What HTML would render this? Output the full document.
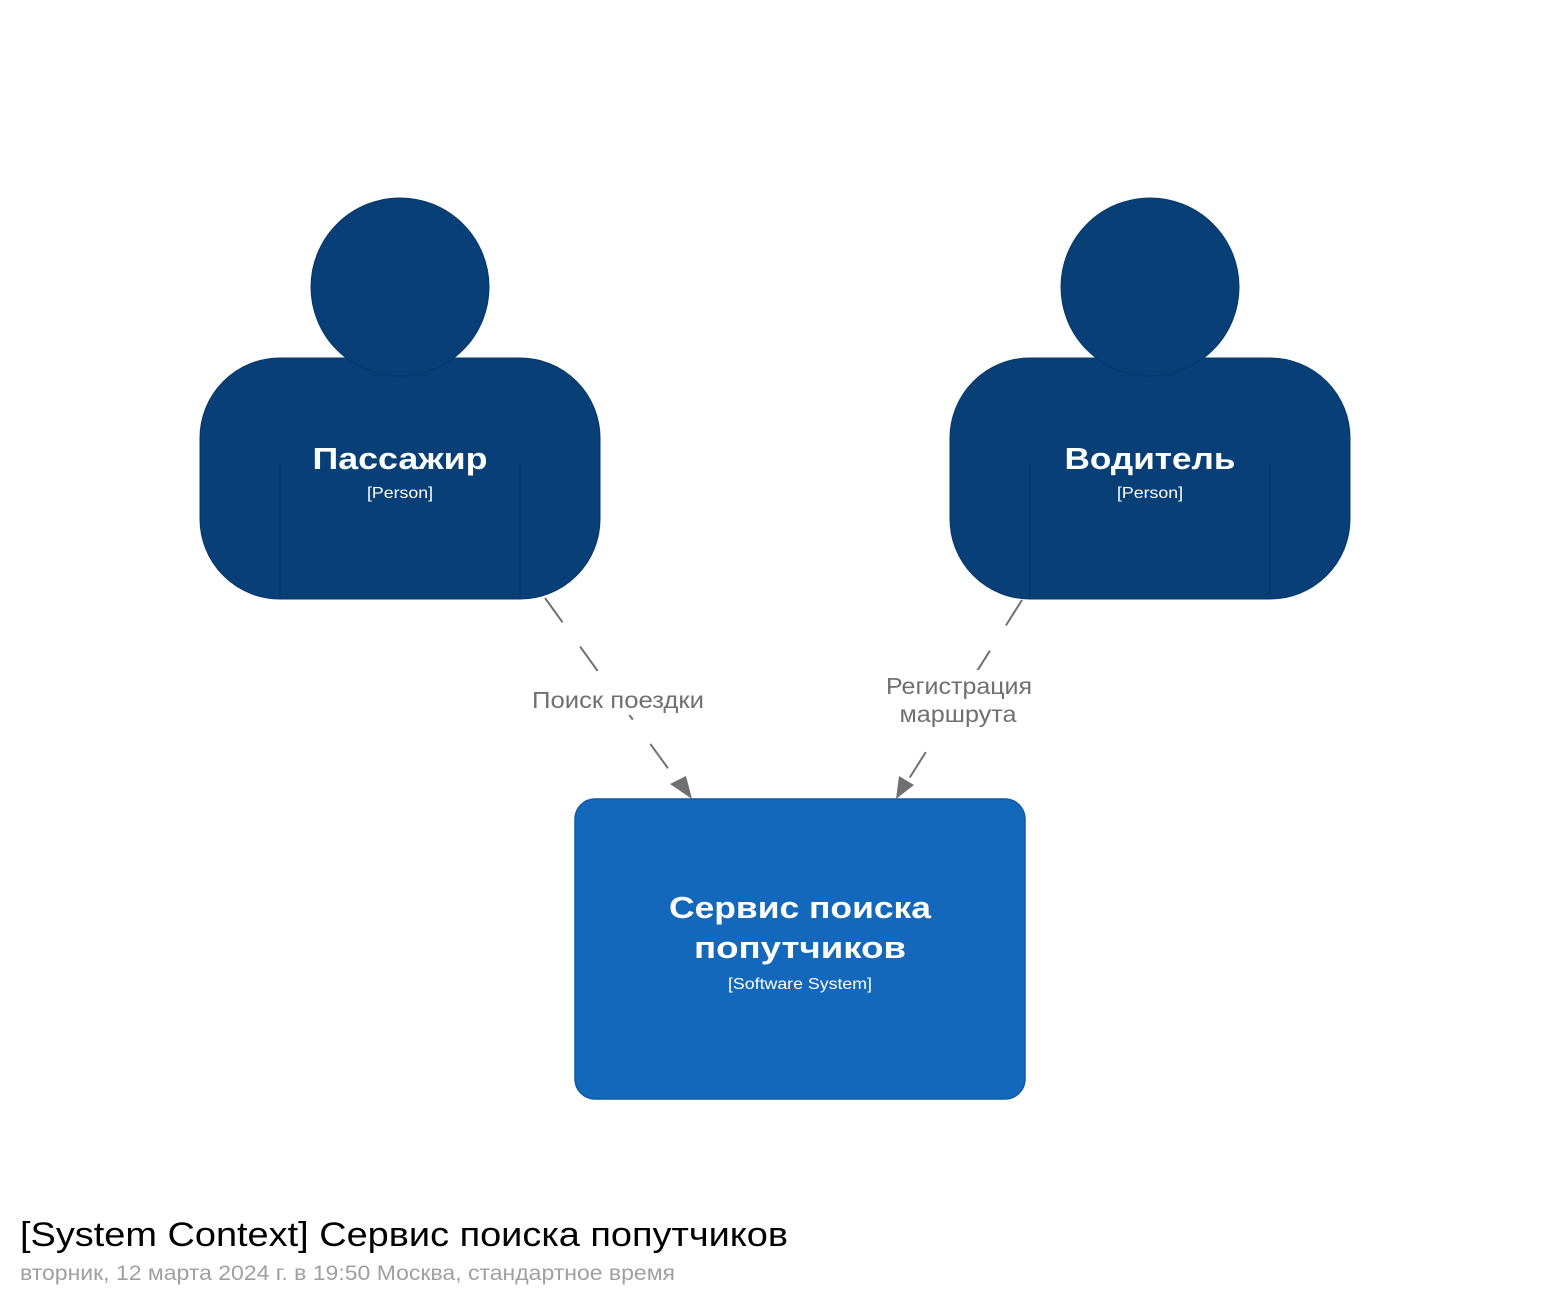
<!DOCTYPE html>
<html><head><meta charset="utf-8"><style>
body{margin:0;background:#fff;width:1550px;height:1300px;overflow:hidden;font-family:"Liberation Sans","DejaVu Sans",sans-serif}
</style></head><body>
<svg width="1550" height="1300" xmlns="http://www.w3.org/2000/svg" font-family="'Liberation Sans','DejaVu Sans',sans-serif">
<g stroke="#707070" stroke-width="2" stroke-dasharray="30,30" fill="none">
<line x1="545" y1="598" x2="680" y2="785"/>
<line x1="1022" y1="600" x2="905" y2="785"/>
</g>
<rect x="525" y="685" width="185" height="30" fill="#fff"/>
<rect x="880" y="670" width="158" height="60" fill="#fff"/>
<polygon points="670,784 686,776 692,799" fill="#707070"/>
<polygon points="896,799 899,776 914,785" fill="#707070"/>
<g fill="#707070" font-size="23" text-anchor="middle" lengthAdjust="spacingAndGlyphs">
<text x="618" y="708" textLength="172" lengthAdjust="spacingAndGlyphs">Поиск поездки</text>
<text x="959" y="694" textLength="146" lengthAdjust="spacingAndGlyphs">Регистрация</text>
<text x="958" y="722" textLength="117" lengthAdjust="spacingAndGlyphs">маршрута</text>
</g>
<g>
<rect x="200" y="358" width="400" height="241" rx="80" fill="#083f77" stroke="#073868" stroke-width="1"/>
<circle cx="400" cy="287" r="89" fill="#083f77" stroke="#073868" stroke-width="1"/>
<line x1="280" y1="465" x2="280" y2="599" stroke="#073868" stroke-width="1.5"/>
<line x1="520" y1="465" x2="520" y2="599" stroke="#073868" stroke-width="1.5"/>
<text x="400" y="469" fill="#fff" font-size="31" font-weight="bold" text-anchor="middle" textLength="175" lengthAdjust="spacingAndGlyphs">Пассажир</text>
<text x="400" y="498" fill="#fff" font-size="16" text-anchor="middle" textLength="66" lengthAdjust="spacingAndGlyphs">[Person]</text>
</g>
<g>
<rect x="950" y="358" width="400" height="241" rx="80" fill="#083f77" stroke="#073868" stroke-width="1"/>
<circle cx="1150" cy="287" r="89" fill="#083f77" stroke="#073868" stroke-width="1"/>
<line x1="1030" y1="465" x2="1030" y2="599" stroke="#073868" stroke-width="1.5"/>
<line x1="1270" y1="465" x2="1270" y2="599" stroke="#073868" stroke-width="1.5"/>
<text x="1150" y="469" fill="#fff" font-size="31" font-weight="bold" text-anchor="middle" textLength="171" lengthAdjust="spacingAndGlyphs">Водитель</text>
<text x="1150" y="498" fill="#fff" font-size="16" text-anchor="middle" textLength="66" lengthAdjust="spacingAndGlyphs">[Person]</text>
</g>
<rect x="575" y="799" width="450" height="300" rx="20" fill="#1368bc" stroke="#0f5aa5" stroke-width="1.5"/>
<text x="800" y="918" fill="#fff" font-size="31" font-weight="bold" text-anchor="middle" textLength="262" lengthAdjust="spacingAndGlyphs">Сервис поиска</text>
<text x="800" y="958" fill="#fff" font-size="31" font-weight="bold" text-anchor="middle" textLength="212" lengthAdjust="spacingAndGlyphs">попутчиков</text>
<text x="800" y="989" fill="#fff" font-size="16" text-anchor="middle" textLength="144" lengthAdjust="spacingAndGlyphs">[Software System]</text>
<text x="20" y="1246" fill="#000" font-size="34" textLength="768" lengthAdjust="spacingAndGlyphs">[System Context] Сервис поиска попутчиков</text>
<text x="20" y="1280" fill="#a0a0a0" font-size="21" textLength="655" lengthAdjust="spacingAndGlyphs">вторник, 12 марта 2024 г. в 19:50 Москва, стандартное время</text>
</svg>
</body></html>
